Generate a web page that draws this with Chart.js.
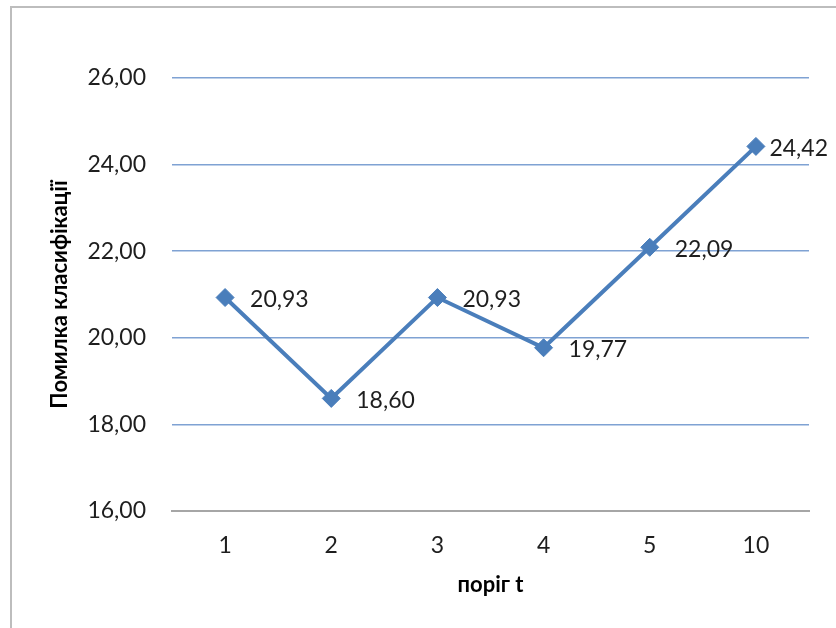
<!DOCTYPE html>
<html>
<head>
<meta charset="utf-8">
<style>
  html, body { margin: 0; padding: 0; background: #fff; }
  #wrap { width: 836px; height: 628px; }
</style>
<script src="https://cdn.jsdelivr.net/npm/chart.js@4/dist/chart.umd.min.js"></script>
</head>
<body>
<div id="wrap"><canvas id="chart" width="836" height="628"></canvas></div>
<script>
    const thresholds = ['1', '2', '3', '4', '5', '10'];
    const errorRates = [20.93, 18.60, 20.93, 19.77, 22.09, 24.42];
    const yMin = 16, yMax = 26, yStep = 2;

    const comma = (v) => Number(v).toFixed(2).replace('.', ',');
    const FONT = 'Lato, "Open Sans", sans-serif';

    // frame round the chart, cut by the canvas edges on the right and bottom
    const frame = {
        id: 'frame',
        beforeDraw(chart) {
            const ctx = chart.ctx;
            ctx.save();
            ctx.strokeStyle = '#bdbdbd';
            ctx.lineWidth = 2;
            ctx.strokeRect(11, 7, chart.width + 20, chart.height + 20);
            ctx.restore();
        }
    };

    // value labels to the right of every marker, kept inside the canvas
    const valueLabels = {
        id: 'valueLabels',
        afterDatasetsDraw(chart) {
            const ctx = chart.ctx;
            const meta = chart.getDatasetMeta(0);
            ctx.save();
            ctx.font = '23px ' + FONT;
            ctx.fillStyle = '#1e1e1e';
            ctx.textBaseline = 'middle';
            meta.data.forEach((pt, i) => {
                const text = comma(chart.data.datasets[0].data[i]);
                const w = ctx.measureText(text).width;
                let x = pt.x + 25;
                if (x + w > chart.width - 8) x = chart.width - 8 - w;
                ctx.fillText(text, x, pt.y + 2);
            });
            ctx.restore();
        }
    };

    new Chart(document.getElementById('chart'), {
        type: 'line',
        data: {
            labels: thresholds,
            datasets: [{
                data: errorRates,
                borderColor: '#4a7ebb',
                backgroundColor: '#4a7ebb',
                borderWidth: 4,
                tension: 0,
                pointStyle: 'rectRot',
                pointRadius: 9,
                pointBorderWidth: 1,
                pointBackgroundColor: '#4a7ebb',
                pointBorderColor: '#4a7ebb'
            }]
        },
        options: {
            responsive: false,
            animation: false,
            devicePixelRatio: 1,
            layout: { padding: { top: 78, right: 27, left: 0, bottom: 0 } },
            plugins: { legend: { display: false }, tooltip: { enabled: false } },
            scales: {
                x: {
                    offset: true,
                    afterFit: (s) => { s.height = 117; },
                    grid: { display: false, drawTicks: false },
                    border: { display: true, color: '#a6a6a6', width: 2 },
                    ticks: { color: '#1e1e1e', padding: 21, font: { family: FONT, size: 23 } },
                    title: {
                        display: true, text: 'поріг t', color: '#000',
                        font: { family: FONT, size: 22, weight: 'bold' },
                        padding: { top: 0, bottom: 30 }
                    }
                },
                y: {
                    min: yMin, max: yMax,
                    afterFit: (s) => { s.width = 172; },
                    grid: {
                        drawTicks: false, lineWidth: 1.5,
                        color: (c) => c.tick && c.tick.value === yMin ? 'rgba(0,0,0,0)' : '#7fa2d3'
                    },
                    border: { display: false },
                    ticks: {
                        stepSize: yStep, color: '#1e1e1e', padding: 26,
                        font: { family: FONT, size: 23 },
                        callback: (v) => comma(v)
                    },
                    title: {
                        display: true, text: 'Помилка класифікації', color: '#000',
                        font: { family: FONT, size: 22, weight: 'bold' },
                        padding: { top: 47, bottom: 0 }
                    }
                }
            }
        },
        plugins: [frame, valueLabels]
    });
</script>
</body>
</html>
